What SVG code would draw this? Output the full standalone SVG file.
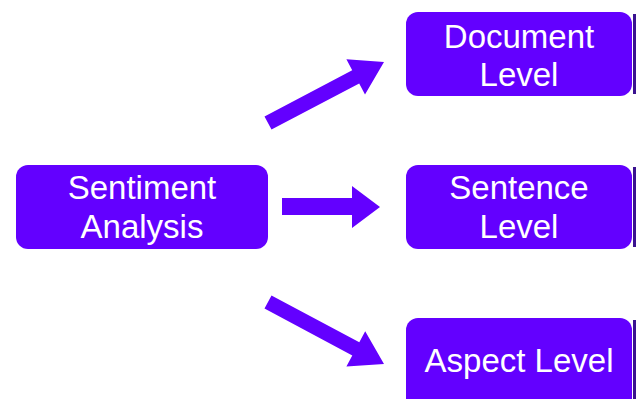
<svg xmlns="http://www.w3.org/2000/svg" width="636" height="399" viewBox="0 0 636 399">
<style>
.box{fill:#6300ff;}
.edge{fill:#3a1290;}
.lbl{fill:#ffffff;font-family:"Liberation Sans",Arial,sans-serif;font-size:33px;text-anchor:middle;}
.arr{fill:#6300ff;}
</style>
<rect x="0" y="0" width="636" height="399" fill="#ffffff"/>
<g id="connectors">
<polygon class="arr" points="264.5,116.4 352.2,70.3 346.4,59.2 384,62 365,94.6 359.2,83.5 271.5,129.6"/>
<polygon class="arr" points="282,198 352,198 352,186 380,207 352,228 352,215 282,215"/>
<polygon class="arr" points="271.5,295.4 359.3,342.3 365.2,331.3 384,364 346.4,366.5 352.3,355.5 264.5,308.6"/>
</g>
<g id="sentiment-analysis">
<rect class="box" x="16" y="165" width="252" height="84" rx="12"/>
<text class="lbl" x="142" y="199">Sentiment</text>
<text class="lbl" x="142" y="238">Analysis</text>
</g>
<g id="document-level">
<rect class="box" x="406" y="12" width="226" height="84" rx="12"/>
<rect class="edge" x="633" y="14" width="3" height="80"/>
<text class="lbl" x="519" y="48">Document</text>
<text class="lbl" x="519" y="86">Level</text>
</g>
<g id="sentence-level">
<rect class="box" x="406" y="165" width="226" height="84" rx="12"/>
<rect class="edge" x="633" y="167" width="3" height="80"/>
<text class="lbl" x="519" y="199">Sentence</text>
<text class="lbl" x="519" y="238">Level</text>
</g>
<g id="aspect-level">
<rect class="box" x="406" y="318" width="226" height="95" rx="12"/>
<rect class="edge" x="633" y="320" width="3" height="79"/>
<text class="lbl" x="519" y="372">Aspect Level</text>
</g>
</svg>
